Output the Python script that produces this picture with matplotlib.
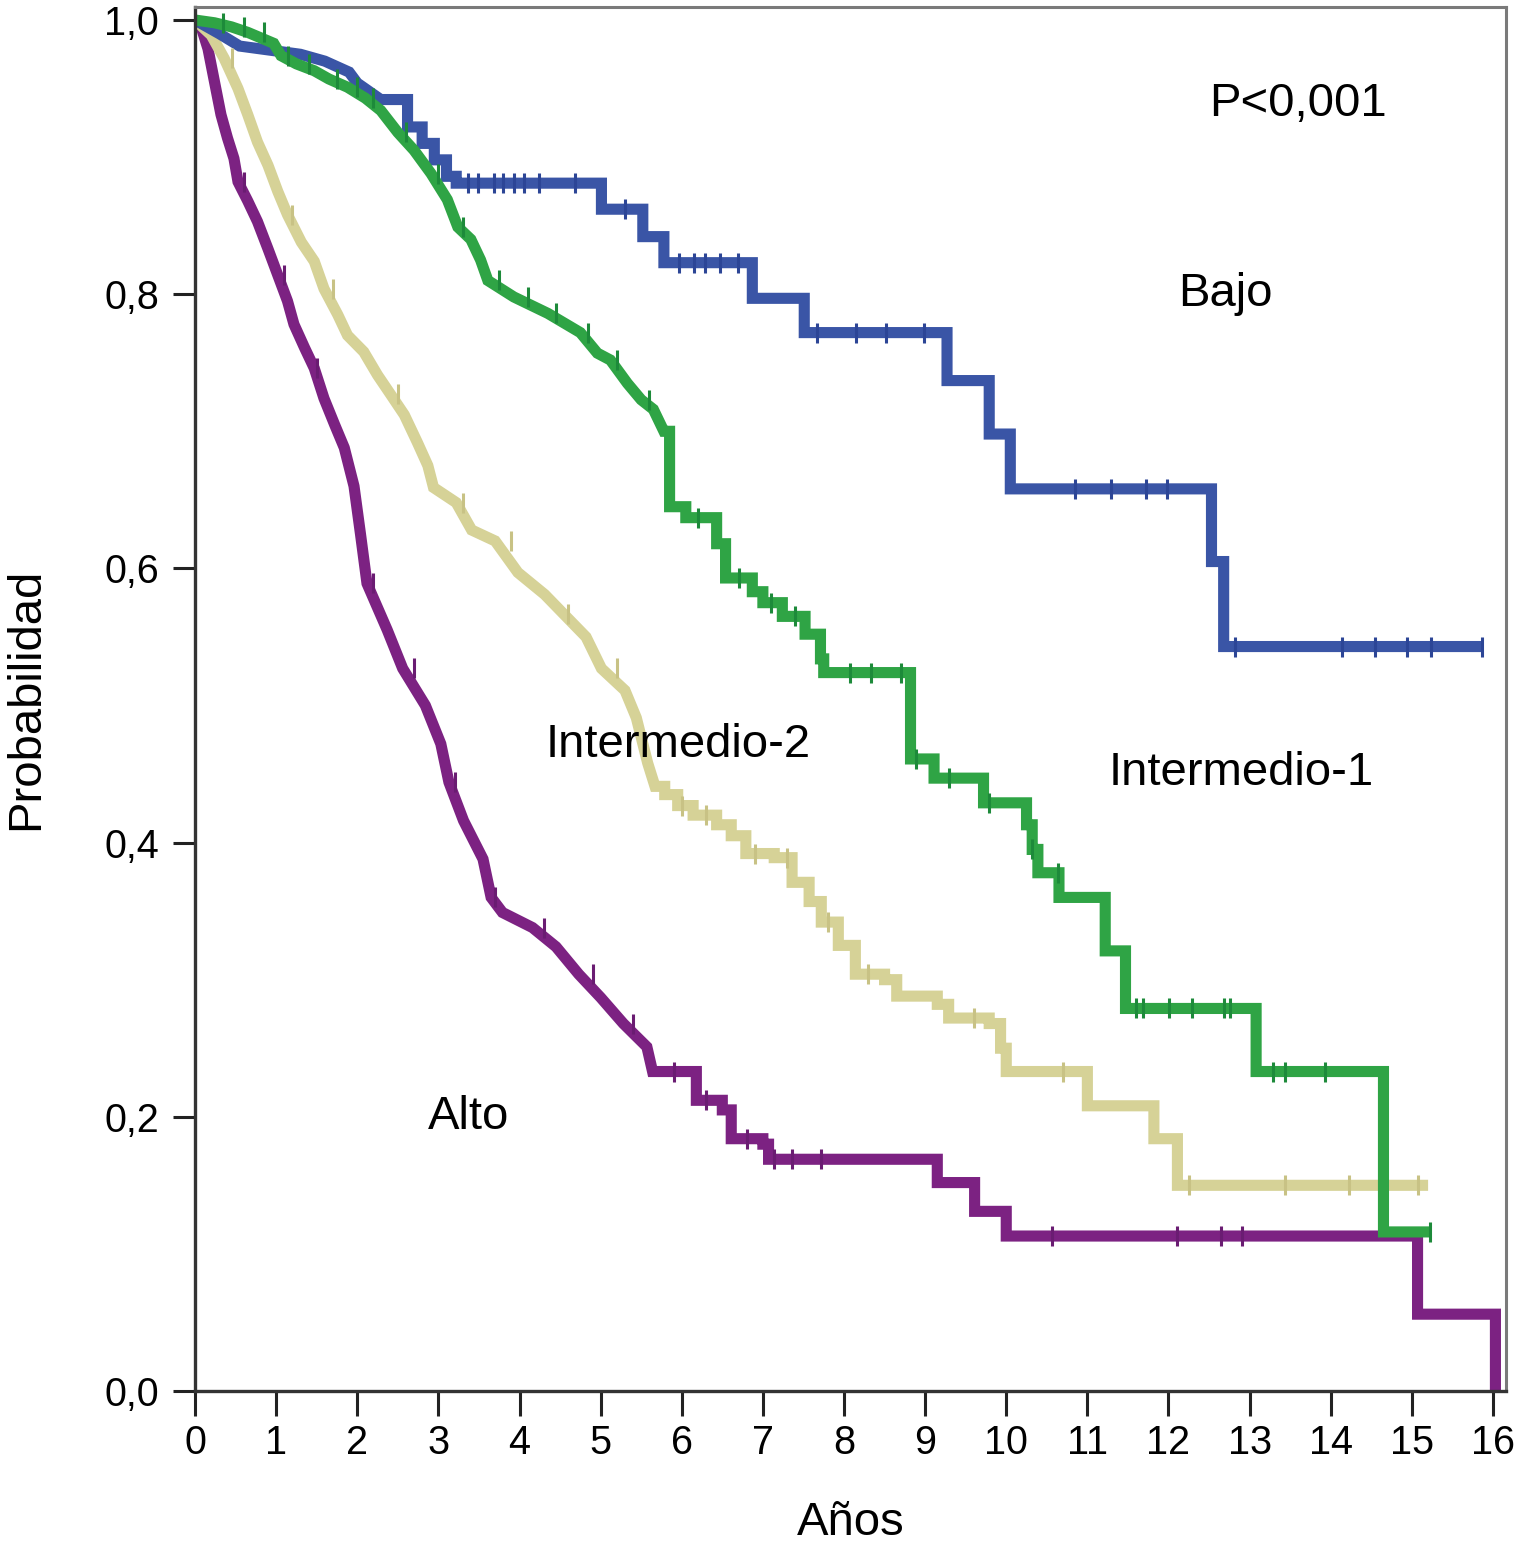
import numpy as np
import matplotlib.pyplot as plt

plt.rcParams['font.family'] = ['Liberation Sans', 'DejaVu Sans']

# Curvas de supervivencia (Kaplan-Meier): tiempos de evento (años) y probabilidad
bajo_t = [0, 0.3, 0.55, 1.3, 1.6, 1.9, 2.0, 2.29, 2.62, 2.8, 2.95, 3.1, 3.22,
          5.01, 5.52, 5.78, 6.87, 7.51, 9.27, 9.79, 10.05, 12.53, 12.68]
bajo_s = [1.0, 0.99, 0.981, 0.975, 0.97, 0.962, 0.954, 0.942, 0.922, 0.91, 0.898, 0.886, 0.881,
          0.862, 0.842, 0.823, 0.797, 0.772, 0.737, 0.698, 0.658, 0.605, 0.543]
bajo_fin = 15.86
bajo_cens = [3.36, 3.49, 3.68, 3.8, 3.93, 4.05, 4.24, 4.69, 5.3, 5.96, 6.15, 6.29, 6.47, 6.69,
             7.67, 8.15, 8.52, 8.99, 10.85, 11.29, 11.72, 11.98, 12.82, 14.14, 14.54, 14.94,
             15.23, 15.86]

int1_t = [0, 0.24, 0.45, 0.65, 0.97, 1.06, 1.25, 1.47, 1.65, 1.88, 2.1, 2.29, 2.5, 2.70, 2.91,
          3.11, 3.24, 3.4, 3.52, 3.61, 3.93, 4.35, 4.75, 4.96, 5.12, 5.33, 5.5, 5.65, 5.78, 5.85,
          6.05, 6.43, 6.54, 6.87, 7.0, 7.24, 7.52, 7.71, 7.75, 8.82, 9.11, 9.72, 10.25, 10.32,
          10.39, 10.65, 11.22, 11.47, 13.08, 14.65]
int1_s = [1.0, 0.998, 0.995, 0.991, 0.983, 0.974, 0.968, 0.963, 0.957, 0.951, 0.943, 0.934, 0.918,
          0.905, 0.888, 0.869, 0.849, 0.84, 0.825, 0.81, 0.798, 0.786, 0.772, 0.757, 0.752, 0.735,
          0.723, 0.716, 0.70, 0.645, 0.637, 0.618, 0.593, 0.583, 0.575, 0.565, 0.552, 0.534, 0.524,
          0.461, 0.447, 0.429, 0.413, 0.395, 0.378, 0.36, 0.321, 0.279, 0.233, 0.116]
int1_fin = 15.22
int1_cens = [0.35, 0.6, 0.85, 1.15, 1.4, 1.75, 2.0, 2.2, 2.6, 3.0, 3.3, 3.75, 4.1, 4.45, 4.85,
             5.2, 5.6, 6.2, 6.7, 7.1, 7.4, 8.08, 8.33, 8.7, 8.89, 9.3, 9.79, 10.32, 10.64,
             11.6, 11.68, 12.01, 12.29, 12.68, 12.76, 13.29, 13.44, 13.93, 15.22]

int2_t = [0, 0.2, 0.36, 0.53, 0.65, 0.77, 0.90, 1.02, 1.14, 1.31, 1.47, 1.59, 1.76, 1.88, 2.08,
          2.25, 2.41, 2.58, 2.74, 2.87, 2.94, 3.22, 3.41, 3.70, 3.98, 4.31, 4.54, 4.82, 5.01,
          5.30, 5.44, 5.58, 5.67, 5.79, 5.95, 6.14, 6.43, 6.61, 6.79, 7.14, 7.36, 7.57, 7.72,
          7.93, 8.14, 8.5, 8.65, 9.15, 9.29, 9.79, 9.93, 10.0, 11.0, 11.82, 12.11]
int2_s = [1.0, 0.989, 0.972, 0.950, 0.931, 0.911, 0.894, 0.875, 0.858, 0.838, 0.824, 0.804, 0.785,
          0.770, 0.758, 0.741, 0.727, 0.712, 0.692, 0.675, 0.659, 0.648, 0.628, 0.62, 0.597,
          0.581, 0.567, 0.55, 0.527, 0.511, 0.491, 0.458, 0.441, 0.435, 0.427, 0.42, 0.413,
          0.405, 0.392, 0.389, 0.371, 0.357, 0.342, 0.325, 0.304, 0.30, 0.288, 0.282, 0.272,
          0.268, 0.25, 0.233, 0.208, 0.184, 0.150]
int2_fin = 15.2
int2_cens = [0.45, 1.2, 1.7, 2.5, 3.3, 3.9, 4.6, 5.2, 6.0, 6.3, 6.9, 7.3, 7.8, 8.3, 9.6,
             10.7, 12.25, 13.44, 14.22, 15.07]

alto_t = [0, 0.07, 0.16, 0.24, 0.32, 0.40, 0.48, 0.53, 0.65, 0.77, 0.90, 1.02, 1.14, 1.22, 1.35,
          1.47, 1.59, 1.72, 1.84, 1.96, 2.04, 2.12, 2.37, 2.56, 2.84, 3.03, 3.13, 3.31, 3.55,
          3.65, 3.79, 4.16, 4.45, 4.73, 5.0, 5.28, 5.57, 5.64, 6.18, 6.5, 6.61, 7.0, 7.07, 9.15,
          9.61, 10.0, 15.07, 16.03]
alto_s = [1.0, 0.996, 0.979, 0.955, 0.931, 0.914, 0.899, 0.882, 0.868, 0.853, 0.833, 0.814, 0.795,
          0.778, 0.761, 0.746, 0.724, 0.705, 0.688, 0.660, 0.625, 0.589, 0.555, 0.527, 0.50,
          0.472, 0.444, 0.416, 0.388, 0.36, 0.349, 0.338, 0.324, 0.304, 0.287, 0.268, 0.251,
          0.233, 0.212, 0.205, 0.184, 0.180, 0.169, 0.152, 0.131, 0.113, 0.056, 0.0]
alto_fin = 16.03
alto_cens = [0.6, 1.1, 1.5, 2.2, 2.7, 3.2, 3.7, 4.3, 4.9, 5.4, 5.9, 6.3, 6.8, 7.14, 7.36, 7.72,
             10.57, 12.11, 12.65, 12.9]

# hasta este tiempo los escalones son tan finos que se ven como una banda continua
tramo_denso = {'Bajo': 2.29, 'Intermedio-1': 5.78, 'Intermedio-2': 5.67, 'Alto': 5.64}

grupos = ['Bajo', 'Intermedio-1', 'Intermedio-2', 'Alto']
colores = {'Bajo': '#3a55a6', 'Intermedio-1': '#2fa445', 'Intermedio-2': '#d6d297',
           'Alto': '#7c2282'}
colores_cens = {'Bajo': '#2c4596', 'Intermedio-1': '#1d8a3a', 'Intermedio-2': '#c8c285',
                'Alto': '#6a1c72'}
curvas = {'Bajo': (bajo_t, bajo_s, bajo_fin, bajo_cens),
          'Intermedio-1': (int1_t, int1_s, int1_fin, int1_cens),
          'Intermedio-2': (int2_t, int2_s, int2_fin, int2_cens),
          'Alto': (alto_t, alto_s, alto_fin, alto_cens)}


def trazo(t, s, fin, corte):
    # banda continua en el tramo denso, escalones despues
    xs, ys = [t[0]], [s[0]]
    for i in range(1, len(t)):
        if t[i] > corte:
            xs.append(t[i])
            ys.append(s[i - 1])
        xs.append(t[i])
        ys.append(s[i])
    xs.append(fin)
    ys.append(s[-1])
    return xs, ys


fig = plt.figure(figsize=(15.14, 15.55), dpi=100)
ax = fig.add_axes([0.1288, 0.1055, 0.8659, 0.89])

for g in ['Alto', 'Intermedio-2', 'Bajo', 'Intermedio-1']:
    t, s, fin, cens = curvas[g]
    xs, ys = trazo(t, s, fin, tramo_denso[g])
    ax.plot(xs, ys, color=colores[g], lw=8, solid_joinstyle='miter', solid_capstyle='butt',
            zorder=2)
    # marcas de censura sobre la curva
    idx = np.searchsorted(np.array(t), np.array(cens), side='right') - 1
    ax.plot(cens, np.array(s)[idx], ls='none', marker='|', ms=15, mew=2.2,
            color=colores_cens[g], zorder=3)

fs = 34
ax.text(13.6, 0.939, 'P<0,001', fontsize=fs, ha='center', va='center')
ax.text(12.7, 0.80, 'Bajo', fontsize=fs, ha='center', va='center')
ax.text(5.95, 0.471, 'Intermedio-2', fontsize=fs, ha='center', va='center')
ax.text(12.9, 0.451, 'Intermedio-1', fontsize=fs, ha='center', va='center')
ax.text(3.37, 0.20, 'Alto', fontsize=fs, ha='center', va='center')

ax.set_xlim(0, 16.16)
ax.set_ylim(0, 1.0095)
ax.set_xticks(range(0, 17))
ax.set_yticks([0, 0.2, 0.4, 0.6, 0.8, 1.0])
ax.set_yticklabels(['0,0', '0,2', '0,4', '0,6', '0,8', '1,0'])
ax.tick_params(axis='x', length=18, width=2.2, labelsize=28.5, pad=6, color='#222222')
ax.tick_params(axis='y', length=16, width=2.2, labelsize=28.5, pad=10, color='#222222')

for lado in ['left', 'bottom']:
    ax.spines[lado].set_linewidth(2.4)
    ax.spines[lado].set_color('#333333')
for lado in ['top', 'right']:
    ax.spines[lado].set_linewidth(2.2)
    ax.spines[lado].set_color('#7a7a7a')

ax.set_xlabel('Años', fontsize=fs, labelpad=28)
ax.set_ylabel('Probabilidad', fontsize=fs, labelpad=40)

fig.savefig('out.png', dpi=100)
